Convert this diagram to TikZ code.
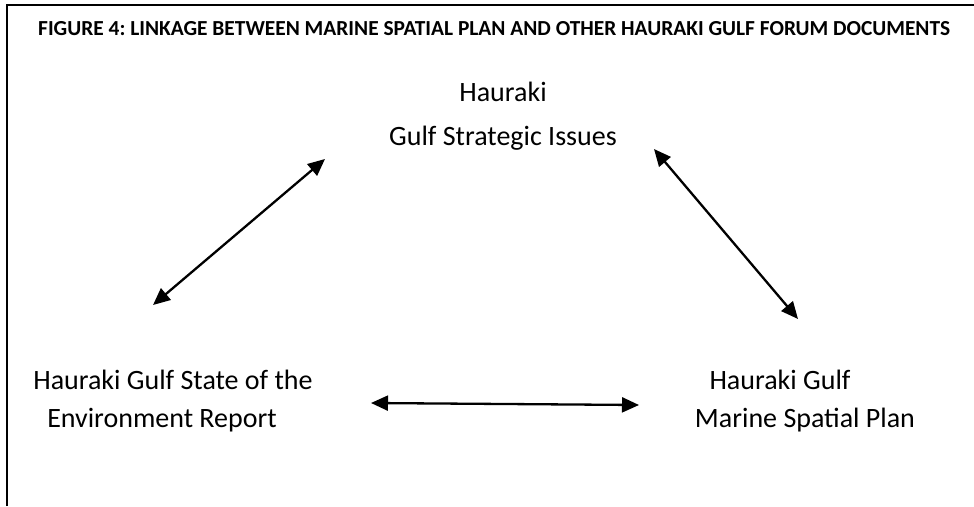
\documentclass[tikz,border=0pt]{standalone}
\usepackage{fontspec}
\setmainfont{Carlito}
\usetikzlibrary{arrows.meta}
\frenchspacing

\begin{document}
\begin{tikzpicture}[x=1pt,y=-1pt,
  doctext/.style={font=\fontsize{28}{40}\selectfont,inner sep=0pt,anchor=base},
  link/.style={{Triangle[length=17pt,width=15pt]}-{Triangle[length=17pt,width=15pt]},line width=2.3pt}]
\useasboundingbox (0,0) rectangle (974,506);
\draw[line width=2pt] (7,506) -- (7,5) -- (974,5);
\path (38,35) node[anchor=base west,inner sep=0pt,font=\fontsize{21.4}{24}\selectfont\bfseries] (title)
  {FIGURE 4: LINKAGE BETWEEN MARINE SPATIAL PLAN AND OTHER HAURAKI GULF FORUM DOCUMENTS};

\path (503,101) node[doctext] (issues1) {Hauraki};
\path (503,145) node[doctext] (issues2) {Gulf Strategic Issues};
\path (173,389) node[doctext] (state1) {Hauraki Gulf State of the};
\path (162,427) node[doctext] (state2) {Environment Report};
\path (780,389) node[doctext] (plan1) {Hauraki Gulf};
\path (805,427) node[doctext] (plan2) {Marine Spatial Plan};

\coordinate (issuesSW) at (325,159);
\coordinate (issuesSE) at (654,149);
\coordinate (stateN) at (153,305);
\coordinate (stateE) at (371,403);
\coordinate (planN) at (798,319);
\coordinate (planW) at (639,405);
\draw[link] (stateN) -- (issuesSW);
\draw[link] (issuesSE) -- (planN);
\draw[link] (stateE) -- (planW);
\end{tikzpicture}
\end{document}
